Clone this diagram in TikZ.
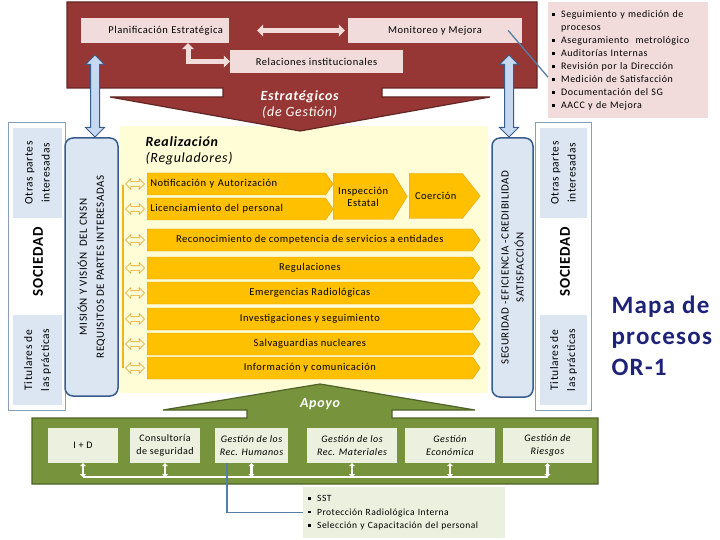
\documentclass[tikz,border=0pt]{standalone}
\usepackage{fontspec}
\setmainfont{Carlito}[LetterSpace=5]
\usepackage{xcolor}
\usetikzlibrary{arrows.meta, positioning, shapes.symbols, shapes.arrows, calc}

\definecolor{bannerred}{RGB}{150,55,53}
\definecolor{bannerline}{RGB}{99,37,35}
\definecolor{rosefill}{RGB}{242,220,219}
\definecolor{paleyellow}{RGB}{255,253,214}
\definecolor{amber}{RGB}{255,192,0}
\definecolor{amberline}{RGB}{228,160,20}
\definecolor{goldline}{RGB}{232,182,40}
\definecolor{paleblue}{RGB}{220,230,242}
\definecolor{arrowblue}{RGB}{198,217,241}
\definecolor{darkblue}{RGB}{56,93,138}
\definecolor{steel}{RGB}{85,125,165}
\definecolor{olive}{RGB}{119,147,60}
\definecolor{oliveline}{RGB}{79,98,40}
\definecolor{palegreen}{RGB}{235,241,222}
\definecolor{navy}{RGB}{30,35,120}

\newcommand{\sqbullet}{\makebox[9pt][l]{\rule[1.8pt]{2.6pt}{2.6pt}}}

\begin{document}
\begin{tikzpicture}[
    x=1pt, y=-1pt,
    font=\fontsize{10.5}{12}\selectfont,
    rosebox/.style={
        rectangle,
        fill=rosefill,
        inner sep=1pt
    },
    rosearrow/.style={
        draw=rosefill,
        line width=5pt,
        {Triangle[width=12pt,length=6pt]}-{Triangle[width=12pt,length=6pt]}
    },
    chevron/.style={
        signal,
        signal to=east,
        signal pointer angle=110,
        fill=amber,
        draw=amberline,
        minimum height=22,
        inner sep=2pt,
        anchor=west
    },
    sidearrow/.style={
        double arrow,
        double arrow head extend=3pt,
        fill=paleyellow,
        draw=amberline,
        line width=0.7pt,
        minimum height=19,
        inner xsep=0pt,
        inner ysep=2pt
    },
    bluearrow/.style={
        double arrow,
        rotate=90,
        double arrow head extend=5pt,
        fill=arrowblue,
        draw=darkblue,
        line width=1pt,
        minimum height=82,
        inner xsep=0pt,
        inner ysep=4pt
    },
    valuebox/.style={
        rectangle,
        rounded corners=8pt,
        fill=paleblue,
        draw=darkblue,
        line width=1.5pt,
        rotate=90,
        align=center
    },
    society/.style={
        rectangle,
        draw=darkblue!60,
        fill=white,
        line width=0.6pt
    },
    party/.style={
        rectangle,
        fill=paleblue,
        rotate=90,
        align=center,
        minimum width=90,
        minimum height=49,
        font=\fontsize{11.5}{17}\selectfont
    },
    supportbox/.style={
        rectangle,
        fill=palegreen,
        align=center,
        minimum height=35,
        font=\fontsize{10}{13}\selectfont
    },
    whitearrow/.style={
        draw=white,
        line width=2.5pt,
        {Triangle[width=6pt,length=3pt]}-{Triangle[width=6pt,length=3pt]}
    },
    link/.style={
        draw=steel,
        line width=1.3pt
    }
]
\useasboundingbox (0,0) rectangle (720,540);

% realizacion area
\fill[paleyellow] (120,126) rectangle (488,393);

% estrategicos
\draw[fill=bannerred, draw=bannerline, line width=1.2pt]
    (67,2) -- (537,2) -- (537,88) -- (382,88) -- (382,97) -- (490,97) -- (300,131)
    -- (110,97) -- (223,97) -- (223,88) -- (67,88) -- cycle;

\node[rosebox, minimum width=148, minimum height=25, text width=136, align=right] (plan) at (155,30.5) {Planificación Estratégica};
\node[rosebox, minimum width=174, minimum height=25] (mon) at (435,30.5) {Monitoreo y Mejora};
\node[rosebox, minimum width=173, minimum height=23] (rel) at (316.5,61.5) {Relaciones institucionales};

\draw[rosearrow] ([xshift=28]plan.east) -- ([xshift=-3]mon.west);
\draw[rosearrow] ([xshift=33]plan.south) |- (rel.west);

\node[text=white, align=center, font=\fontsize{14}{16}\selectfont] (estr) at (300,105)
    {\textbf{\textit{Estratégicos}}\\\textit{(de Gestión)}};

\node[anchor=north west, fill=rosefill, minimum width=160, minimum height=116,
      text width=152, align=left, inner sep=4pt, font=\fontsize{10}{13}\selectfont] (bul) at (548,2)
    {\sqbullet Seguimiento y medición de\\\hspace*{9pt}procesos\\
     \sqbullet Aseguramiento\ \ metrológico\\
     \sqbullet Auditorías Internas\\
     \sqbullet Revisión por la Dirección\\
     \sqbullet Medición de Satisfacción\\
     \sqbullet Documentación del SG\\
     \sqbullet AACC y de Mejora};
\draw[link] ([xshift=-14]mon.east) -- ([yshift=-17]bul.west);

% sociedad
\node[society, minimum width=57, minimum height=288] (socl) at (36.5,266) {};
\node[party] (otrl) at (37.5,173) {Otras partes\\interesadas};
\node[party] (titl) at (37.5,360) {Titulares de\\las prácticas};
\node[rotate=90, font=\fontsize{15}{17}\selectfont\bfseries] (soclab) at (38,262) {SOCIEDAD};

\node[society, minimum width=56, minimum height=288] (socr) at (563,266) {};
\node[party, minimum height=47] (otrr) at (563.5,173) {Otras partes\\interesadas};
\node[party, minimum height=47] (titr) at (563.5,360) {Titulares de\\las prácticas};
\node[rotate=90, font=\fontsize{15}{17}\selectfont\bfseries] (socrlab) at (565,262) {SOCIEDAD};

\node[valuebox, minimum width=258, minimum height=53, font=\fontsize{11}{17}\selectfont] (mision) at (91.5,267)
    {MISIÓN Y VISIÓN\ \ DEL CNSN\\REQUISITOS DE PARTES INTERESADAS};
\node[valuebox, minimum width=259, minimum height=41, font=\fontsize{11}{15}\selectfont] (segur) at (512.5,267.5)
    {SEGURIDAD -EFICIENCIA -CREDIBILIDAD\\SATISFACCIÓN};

\node[bluearrow] (arrl) at (95,96) {};
\node[bluearrow] (arrr) at (509,96) {};

% realizacion
\node[anchor=north west, align=left, font=\fontsize{14}{16.5}\selectfont] (real) at (142,133)
    {\textbf{\textit{Realización}}\\\textit{(Reguladores)}};

\draw[goldline, line width=2.5pt] (123,185) -- (123,368);
\foreach \y [count=\i] in {184,209,240,268,293,319,344,368}
    \node[sidearrow] (side\i) at (135,\y) {};

\node[chevron, minimum width=186, text width=172, align=left] (notif) at (147,184) {Notificación y Autorización};
\node[chevron, minimum width=186, text width=172, align=left] (licen) at (147,209) {Licenciamiento del personal};
\node[chevron, minimum width=74, minimum height=46, signal pointer angle=117, align=center] (insp) at (333,196.5) {Inspección\\Estatal};
\node[chevron, minimum width=71, minimum height=45, signal pointer angle=103] (coer) at (409,196) {Coerción};
\node[chevron, minimum width=333] (recon) at (147,240) {Reconocimiento de competencia de servicios a entidades};
\node[chevron, minimum width=333] (regul) at (147,268) {Regulaciones};
\node[chevron, minimum width=333] (emerg) at (147,293) {Emergencias Radiológicas};
\node[chevron, minimum width=333] (inves) at (147,319) {Investigaciones y seguimiento};
\node[chevron, minimum width=333] (salva) at (147,344) {Salvaguardias nucleares};
\node[chevron, minimum width=333] (infor) at (147,368) {Información y comunicación};

% apoyo
\draw[fill=olive, draw=oliveline, line width=1.2pt]
    (32,418) -- (247,418) -- (247,410) -- (163,410) -- (320,384) -- (475,410)
    -- (392,410) -- (392,418) -- (598,418) -- (598,484) -- (32,484) -- cycle;
\node[text=white, font=\fontsize{14}{16}\selectfont\bfseries\itshape] (apoyo) at (320,404) {Apoyo};

\node[supportbox, minimum width=70] (id) at (83,445.5) {I + D};
\node[supportbox, minimum width=70] (cons) at (165,445.5) {Consultoría\\de seguridad};
\node[supportbox, minimum width=73, font=\fontsize{10}{13}\selectfont\itshape] (rh) at (251.5,445.5) {Gestión de los\\Rec. Humanos};
\node[supportbox, minimum width=90, font=\fontsize{10}{13}\selectfont\itshape] (rm) at (352,445.5) {Gestión de los\\Rec. Materiales};
\node[supportbox, minimum width=90, font=\fontsize{10}{13}\selectfont\itshape] (eco) at (450,445.5) {Gestión\\Económica};
\node[supportbox, minimum width=89, font=\fontsize{10}{13}\selectfont\itshape] (ries) at (547.5,445.5) {Gestión de\\Riesgos};

\coordinate (bus) at (0,477);
\draw[white, line width=1.5pt] (id.south |- bus) -- (ries.south |- bus);
\foreach \n in {id,cons,rh,rm,eco,ries}
    \draw[whitearrow] (\n.south) -- (\n.south |- bus);

\node[anchor=north west, fill=palegreen, minimum width=202, minimum height=51,
      text width=192, align=left, inner sep=5pt, font=\fontsize{9.5}{13.5}\selectfont] (sst) at (303,487)
    {\sqbullet SST\\
     \sqbullet Protección Radiológica Interna\\
     \sqbullet Selección y Capacitación del personal};
\draw[link] ([xshift=-24.5]rh.south) |- (sst.west);

\node[anchor=west, align=left, text=navy, font=\fontsize{25}{31}\selectfont\bfseries] (mapa) at (608,336)
    {Mapa de\\procesos\\OR-1};

\end{tikzpicture}
\end{document}
